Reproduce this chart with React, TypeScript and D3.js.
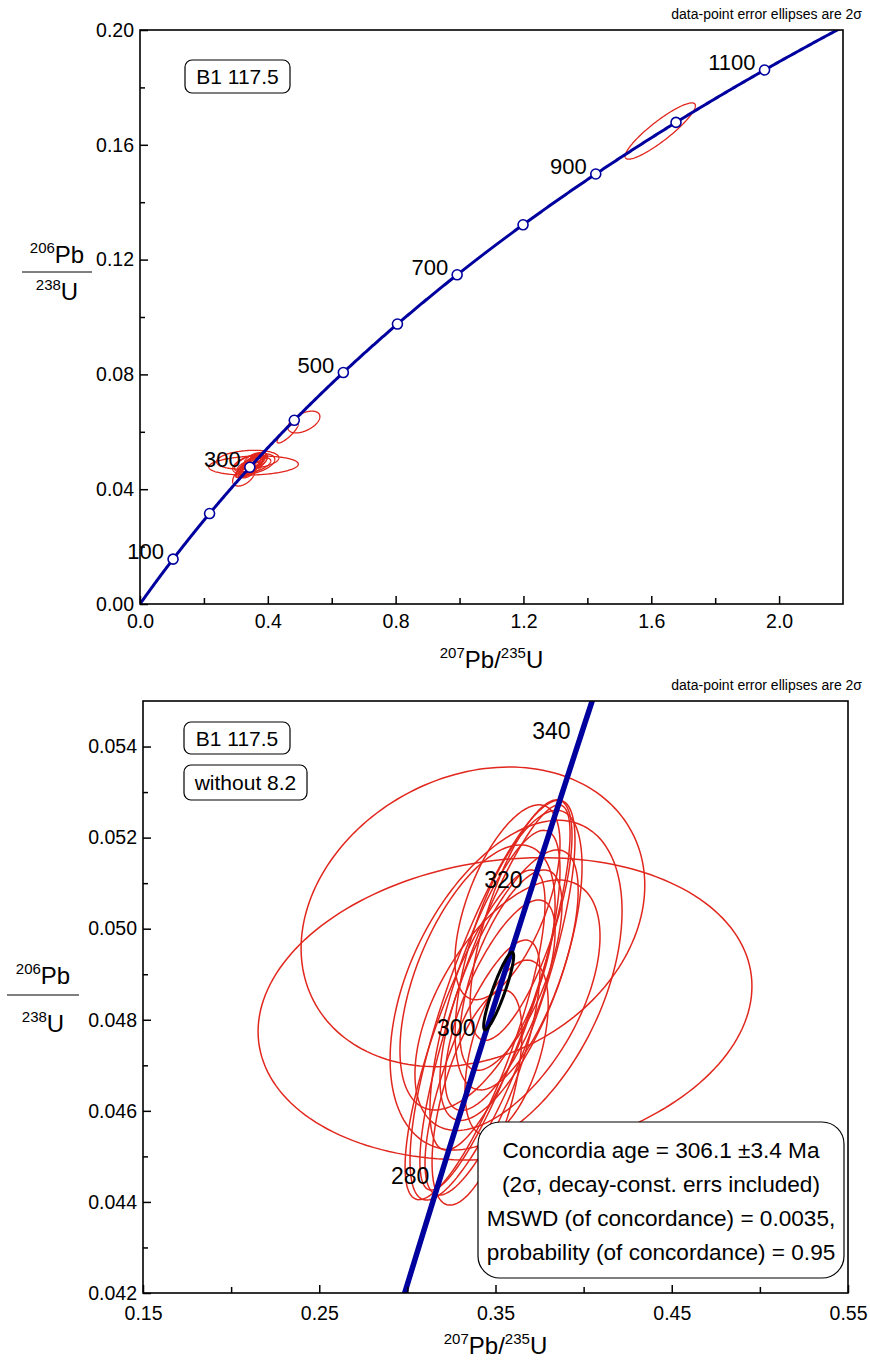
import React, { useEffect, useRef } from 'react';
import * as d3 from 'd3';

// decay constants (per year)
const L238 = 1.55125e-10;
const L235 = 9.8485e-10;

// spot analyses: 207Pb/235U, 206Pb/238U, 2-sigma half widths, error correlation
const spotIds = ['1.1', '2.1', '3.1', '3.2', '4.1', '4.2', '5.1', '5.2', '6.1', '6.2', '7.1', '7.2', '8.1', '9.1', '9.2', '10.1', '10.2', '11.1', '12.1', '12.2', '13.1', '8.2'];
const spotX = [0.3554, 0.3372, 0.3483, 0.3497, 0.3497, 0.3577, 0.3384, 0.3526, 0.3631, 0.3426, 0.3588, 0.3568, 0.3645, 0.3395, 0.356, 0.3563, 0.3568, 0.3398, 0.462, 0.513, 1.628, 0.325];
const spotY = [0.04824, 0.05026, 0.04843, 0.04849, 0.04865, 0.04876, 0.04767, 0.04832, 0.04953, 0.04695, 0.04909, 0.04832, 0.05019, 0.04629, 0.04876, 0.04739, 0.05058, 0.04893, 0.0596, 0.0634, 0.1648, 0.0446];
const spotSX = [0.1401, 0.0975, 0.0468, 0.0426, 0.0369, 0.0392, 0.0397, 0.0312, 0.036, 0.0326, 0.0289, 0.0525, 0.0289, 0.0255, 0.0658, 0.0236, 0.0298, 0.044, 0.033, 0.05, 0.11, 0.035];
const spotSY = [0.00332, 0.00329, 0.00439, 0.00423, 0.00351, 0.00297, 0.00362, 0.00231, 0.00307, 0.0028, 0.0022, 0.00275, 0.00264, 0.00236, 0.00362, 0.00192, 0.00214, 0.00291, 0.0035, 0.0038, 0.0098, 0.0035];
const spotRho = [0.15, 0.21, 0.8, 0.85, 0.75, 0.7, 0.8, 0.7, 0.6, 0.75, 0.65, 0.55, 0.7, 0.6, 0.45, 0.5, 0.6, 0.55, 0.85, 0.5, 0.9, 0.5];
const excludedSpot = '8.2';

// concordia age ellipse
const ageX = [0.3518];
const ageY = [0.04863];
const ageSX = [0.0085];
const ageSY = [0.00085];
const ageRho = [0.9];

const markerAges = [100, 200, 300, 400, 500, 600, 700, 800, 900, 1000, 1100];
const topLabelAges = [100, 300, 500, 700, 900, 1100];
const bottomLabelAges = [280, 300, 320, 340];

const topXMajor = [0, 0.4, 0.8, 1.2, 1.6, 2.0];
const topXMinor = [0.2, 0.6, 1.0, 1.4, 1.8];
const topYMajor = [0, 0.04, 0.08, 0.12, 0.16, 0.2];
const topYMinor = [0.02, 0.06, 0.1, 0.14, 0.18];
const botXMajor = [0.15, 0.25, 0.35, 0.45, 0.55];
const botXMinor = [0.2, 0.3, 0.4, 0.5];
const botYMajor = [0.042, 0.044, 0.046, 0.048, 0.05, 0.052, 0.054];
const botYMinor = [0.043, 0.045, 0.047, 0.049, 0.051, 0.053];

const resultLines = [
  'Concordia age = 306.1 \u00b13.4 Ma',
  '(2\u03c3, decay-const. errs included)',
  'MSWD (of concordance) = 0.0035,',
  'probability  (of concordance) = 0.95',
];

const FONT = '"Liberation Sans", Arial, Helvetica, sans-serif';
const RED = '#e1271d';
const NAVY = '#00009e';

const concordia = (t: number) => [Math.exp(L235 * t * 1e6) - 1, Math.exp(L238 * t * 1e6) - 1];

const ellipsePts = (cx: number, cy: number, sx: number, sy: number, rho: number) => {
  const k = Math.sqrt(1 - rho * rho);
  return d3.range(0, 180).map((i) => {
    const a = (i / 180) * 2 * Math.PI;
    return [cx + sx * Math.cos(a), cy + sy * (rho * Math.cos(a) + k * Math.sin(a))];
  });
};

const App = () => {
  const ref = useRef<SVGSVGElement>(null);

  const drawPanel = (svg: any, cfg: any) => {
    const { id, left, right, top, bottom, xDomain, yDomain } = cfg;
    const x = d3.scaleLinear().domain(xDomain).range([left, right]);
    const y = d3.scaleLinear().domain(yDomain).range([bottom, top]);

    svg
      .append('clipPath')
      .attr('id', 'clip-' + id)
      .append('rect')
      .attr('x', left)
      .attr('y', top)
      .attr('width', right - left)
      .attr('height', bottom - top);

    const plot = svg.append('g').attr('clip-path', `url(#clip-${id})`);

    const line = d3
      .line<number[]>()
      .x((d) => x(d[0]))
      .y((d) => y(d[1]));

    // data-point error ellipses
    spotIds.forEach((s, i) => {
      if (cfg.skipExcluded && s === excludedSpot) return;
      plot
        .append('path')
        .attr('d', line.curve(d3.curveLinearClosed)(ellipsePts(spotX[i], spotY[i], spotSX[i], spotSY[i], spotRho[i])))
        .attr('fill', 'none')
        .attr('stroke', RED)
        .attr('stroke-width', cfg.ellStroke);
    });

    // concordia curve
    const ages = d3.range(0, 1301, 2);
    plot
      .append('path')
      .attr('d', line.curve(d3.curveLinear)(ages.map(concordia)))
      .attr('fill', 'none')
      .attr('stroke', NAVY)
      .attr('stroke-width', cfg.concStroke);

    if (cfg.markers) {
      plot
        .selectAll('circle.m')
        .data(markerAges)
        .join('circle')
        .attr('cx', (t: number) => x(concordia(t)[0]))
        .attr('cy', (t: number) => y(concordia(t)[1]))
        .attr('r', 5)
        .attr('fill', 'white')
        .attr('stroke', NAVY)
        .attr('stroke-width', 1.6);
    }

    if (cfg.ageEllipse) {
      ageX.forEach((_, i) => {
        plot
          .append('path')
          .attr('d', line.curve(d3.curveLinearClosed)(ellipsePts(ageX[i], ageY[i], ageSX[i], ageSY[i], ageRho[i])))
          .attr('fill', 'none')
          .attr('stroke', 'black')
          .attr('stroke-width', 3);
      });
    }

    svg
      .append('g')
      .selectAll('text')
      .data(cfg.labelAges)
      .join('text')
      .attr('x', (t: number) => x(concordia(t)[0]) - 9)
      .attr('y', (t: number) => y(concordia(t)[1]))
      .attr('text-anchor', 'end')
      .attr('font-family', FONT)
      .attr('font-size', cfg.ageFont)
      .text((t: number) => t);

    // axes
    const styleAxis = (g: any) => {
      g.select('.domain').remove();
      g.attr('font-family', FONT).attr('font-size', 19.5);
      g.selectAll('line').attr('stroke-width', 1.5);
    };
    svg
      .append('g')
      .attr('transform', `translate(0,${bottom})`)
      .call(d3.axisBottom(x).tickValues(cfg.xMajor).tickSize(-8).tickPadding(cfg.xPad).tickFormat(d3.format(cfg.xFmt)))
      .call(styleAxis);
    svg
      .append('g')
      .attr('transform', `translate(0,${bottom})`)
      .call(d3.axisBottom(x).tickValues(cfg.xMinor).tickSize(-6).tickFormat(() => ''))
      .call(styleAxis);
    svg
      .append('g')
      .attr('transform', `translate(${left},0)`)
      .call(d3.axisLeft(y).tickValues(cfg.yMajor).tickSize(-8).tickPadding(6).tickFormat(d3.format(cfg.yFmt)))
      .call(styleAxis);
    svg
      .append('g')
      .attr('transform', `translate(${left},0)`)
      .call(d3.axisLeft(y).tickValues(cfg.yMinor).tickSize(-5).tickFormat(() => ''))
      .call(styleAxis);

    svg
      .append('rect')
      .attr('x', left)
      .attr('y', top)
      .attr('width', right - left)
      .attr('height', bottom - top)
      .attr('fill', 'none')
      .attr('stroke', 'black')
      .attr('stroke-width', 1.6);

    // note at top right
    svg
      .append('text')
      .attr('x', 862)
      .attr('y', top - 11)
      .attr('text-anchor', 'end')
      .attr('font-family', FONT)
      .attr('font-size', 14)
      .text('data-point error ellipses are 2\u03c3');

    // x title
    const xt = svg
      .append('text')
      .attr('x', (left + right) / 2)
      .attr('y', cfg.xTitleY)
      .attr('text-anchor', 'middle')
      .attr('font-family', FONT)
      .attr('font-size', 24);
    xt.append('tspan').attr('font-size', 15).attr('dy', -10).text('207');
    xt.append('tspan').attr('dy', 10).text('Pb/');
    xt.append('tspan').attr('font-size', 15).attr('dy', -10).text('235');
    xt.append('tspan').attr('dy', 10).text('U');

    // y title as a fraction
    const { fx, fTop, fLine, fBot, fHalf } = cfg;
    const num = svg
      .append('text')
      .attr('x', fx)
      .attr('y', fTop)
      .attr('text-anchor', 'middle')
      .attr('font-family', FONT)
      .attr('font-size', 24);
    num.append('tspan').attr('font-size', 15).attr('dy', -10).text('206');
    num.append('tspan').attr('dy', 10).text('Pb');
    svg
      .append('line')
      .attr('x1', fx - fHalf)
      .attr('x2', fx + fHalf)
      .attr('y1', fLine)
      .attr('y2', fLine)
      .attr('stroke', 'black')
      .attr('stroke-width', 1);
    const den = svg
      .append('text')
      .attr('x', fx)
      .attr('y', fBot)
      .attr('text-anchor', 'middle')
      .attr('font-family', FONT)
      .attr('font-size', 24);
    den.append('tspan').attr('font-size', 15).attr('dy', -10).text('238');
    den.append('tspan').attr('dy', 10).text('U');

    // sample label boxes
    cfg.boxes.forEach((b: any) => {
      svg
        .append('rect')
        .attr('x', b.x)
        .attr('y', b.y)
        .attr('width', b.w)
        .attr('height', b.h)
        .attr('rx', 7)
        .attr('fill', 'white')
        .attr('stroke', 'black')
        .attr('stroke-width', 1.2);
      svg
        .append('text')
        .attr('x', b.x + b.w / 2)
        .attr('y', b.y + b.h / 2 + 7.5)
        .attr('text-anchor', 'middle')
        .attr('font-family', FONT)
        .attr('font-size', 21)
        .text(b.text);
    });
  };

  const drawChart = () => {
    const svg = d3.select(ref.current);
    svg.selectAll('*').remove();

    drawPanel(svg, {
      id: 'top',
      left: 140,
      right: 843,
      top: 30,
      bottom: 604,
      xDomain: [0, 2.2],
      yDomain: [0, 0.2],
      xMajor: topXMajor,
      xMinor: topXMinor,
      yMajor: topYMajor,
      yMinor: topYMinor,
      xFmt: '.1f',
      yFmt: '.2f',
      xPad: 10,
      ellStroke: 1.3,
      concStroke: 3,
      markers: true,
      ageEllipse: false,
      labelAges: topLabelAges,
      ageFont: 22,
      skipExcluded: false,
      xTitleY: 668,
      fx: 57,
      fTop: 263,
      fLine: 272,
      fBot: 300,
      fHalf: 35,
      boxes: [{ x: 185, y: 60, w: 105, h: 33, text: 'B1 117.5' }],
    });

    drawPanel(svg, {
      id: 'bot',
      left: 143,
      right: 848,
      top: 701,
      bottom: 1293,
      xDomain: [0.15, 0.55],
      yDomain: [0.042, 0.055],
      xMajor: botXMajor,
      xMinor: botXMinor,
      yMajor: botYMajor,
      yMinor: botYMinor,
      xFmt: '.2f',
      yFmt: '.3f',
      xPad: 13,
      ellStroke: 1.5,
      concStroke: 5.5,
      markers: false,
      ageEllipse: true,
      labelAges: bottomLabelAges,
      ageFont: 23,
      skipExcluded: true,
      xTitleY: 1354,
      fx: 43,
      fTop: 984,
      fLine: 995,
      fBot: 1032,
      fHalf: 36,
      boxes: [
        { x: 184, y: 722, w: 106, h: 32, text: 'B1 117.5' },
        { x: 184, y: 765, w: 123, h: 35, text: 'without 8.2' },
      ],
    });

    // concordia result box
    svg
      .append('rect')
      .attr('x', 478)
      .attr('y', 1122)
      .attr('width', 366)
      .attr('height', 156)
      .attr('rx', 22)
      .attr('fill', 'white')
      .attr('stroke', 'black')
      .attr('stroke-width', 1.2);
    svg
      .selectAll('text.res')
      .data(resultLines)
      .join('text')
      .attr('x', 661)
      .attr('y', (_: string, i: number) => 1158 + i * 34)
      .attr('text-anchor', 'middle')
      .attr('font-family', FONT)
      .attr('font-size', 22.6)
      .text((d: string) => d);
  };

  useEffect(() => {
    drawChart();
  }, []);

  return (
    <svg
      ref={ref}
      width={870}
      height={1360}
      style={{ position: 'absolute', left: 0, top: 0, background: 'white' }}
    />
  );
};

export default App;
